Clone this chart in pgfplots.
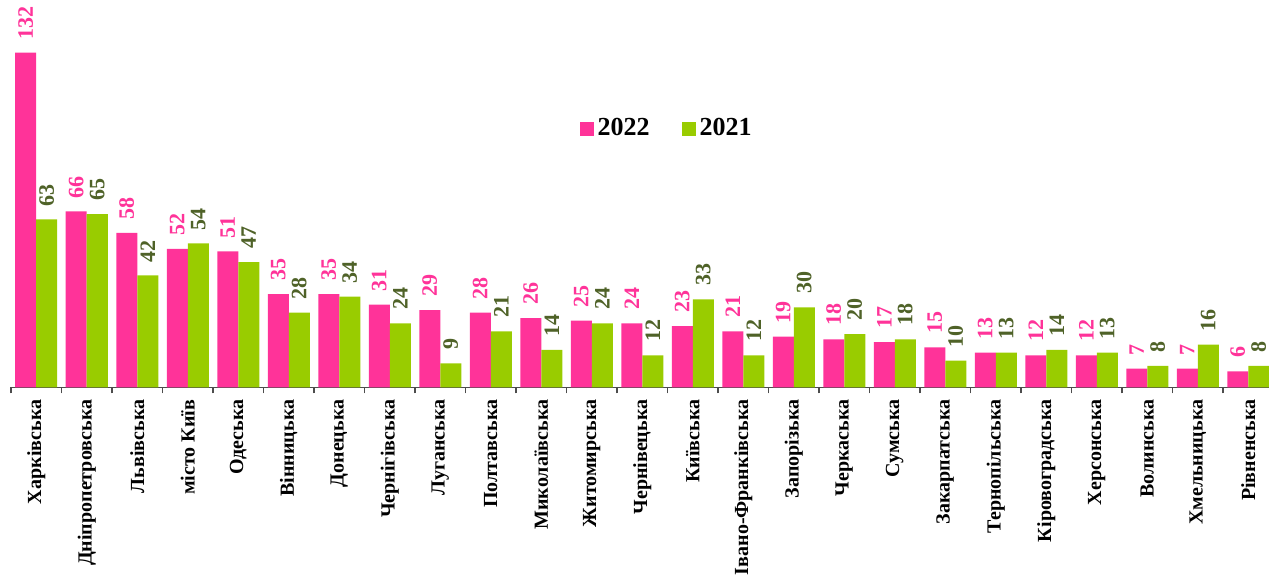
\documentclass[border=0pt]{standalone}
\usepackage{pgfplots}
\usepackage{pgfplotstable}
\pgfplotsset{compat=1.18}
\usepackage{fontspec}
\setmainfont{Liberation Serif}
\definecolor{pinkbar}{HTML}{FF3399}
\definecolor{greenbar}{HTML}{99CC00}
\definecolor{greenlab}{HTML}{4F6228}

\pgfplotstableread{
x a b
0 132 63
1 66 65
2 58 42
3 52 54
4 51 47
5 35 28
6 35 34
7 31 24
8 29 9
9 28 21
10 26 14
11 25 24
12 24 12
13 23 33
14 21 12
15 19 30
16 18 20
17 17 18
18 15 10
19 13 13
20 12 14
21 12 13
22 7 8
23 7 16
24 6 8
}\data

\tikzset{vallab/.style={rotate=90, anchor=west, inner xsep=6.5pt, inner ysep=0pt, font=\bfseries\fontsize{11}{13}\selectfont}}

\begin{document}
\begin{tikzpicture}
\useasboundingbox (-5.5pt,-99.85pt) rectangle (629pt,193.65pt);
\begin{axis}[
  at={(0pt,0pt)}, anchor=south west,
  scale only axis, width=631.25pt, height=167.3pt,
  xmin=-0.5, xmax=24.5, ymin=0, ymax=125.6,
  ybar=0pt, bar width=10.5pt,
  axis x line=bottom, axis y line=none,
  axis line style={gray!60!black, line width=0.6pt, -},
  ytick=\empty,
  xtick={0,...,24},
  xticklabels={Харківська,Дніпропетровська,Львівська,місто Київ,Одеська,Вінницька,Донецька,Чернігівська,Луганська,Полтавська,Миколаївська,Житомирська,Чернівецька,Київська,Івано-Франківська,Запорізька,Черкаська,Сумська,Закарпатська,Тернопільська,Кіровоградська,Херсонська,Волинська,Хмельницька,Рівненська},
  major tick length=0pt,
  minor xtick={-0.5,0.5,...,24.5},
  minor tick length=3pt,
  tick align=outside,
  tick style={gray!60!black, line width=0.6pt},
  xticklabel style={rotate=90, anchor=east, font=\bfseries\fontsize{10}{12}\selectfont, inner xsep=6pt},
  legend columns=2,
  legend style={at={(0.4501,0.7729)}, anchor=west, draw=none, fill=none, inner sep=0pt,
    font=\bfseries\fontsize{13}{15}\selectfont,
    /tikz/every even column/.append style={column sep=14pt}},
  legend cell align=left,
  nodes near coords,
  point meta=explicit symbolic,
  clip=true,
]
\addplot[fill=pinkbar, draw=none,
  y filter/.expression={min(y,125.6)},
  legend image code/.code={\fill[pinkbar] (-1pt,-3.5pt) rectangle (6pt,3.5pt);},
  every node near coord/.append style={vallab, text=pinkbar}]
  table[x=x, y=a, meta=a] {\data};
\addlegendentry{2022}
\addplot[fill=greenbar, draw=none,
  legend image code/.code={\fill[greenbar] (-1pt,-3.5pt) rectangle (6pt,3.5pt);},
  every node near coord/.append style={vallab, text=greenlab}]
  table[x=x, y=b, meta=b] {\data};
\addlegendentry{2021}
\end{axis}
\end{tikzpicture}
\end{document}
